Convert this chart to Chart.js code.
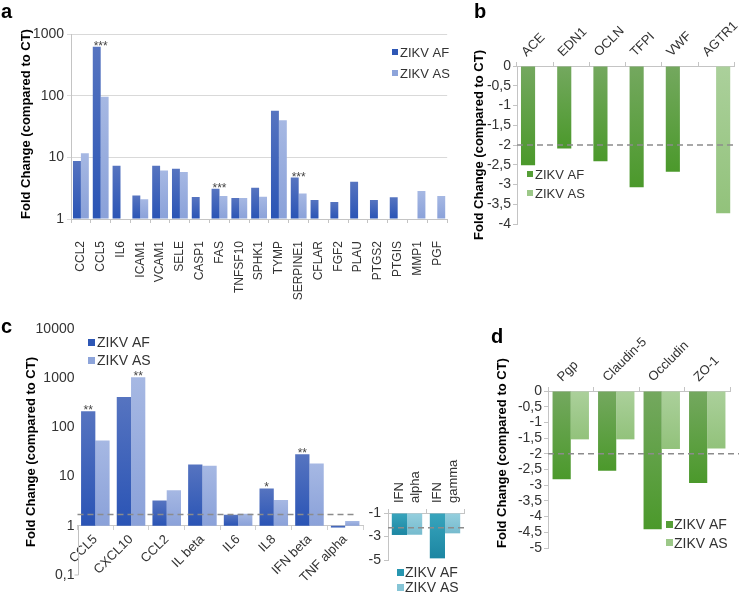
<!DOCTYPE html>
<html><head><meta charset="utf-8">
<script src="https://cdn.jsdelivr.net/npm/chart.js@4.4.1/dist/chart.umd.min.js"></script>
<style>
html,body{margin:0;padding:0;background:#fff;}
#wrap{position:relative;width:750px;height:594px;overflow:hidden;font-family:'Liberation Sans',Arial,sans-serif;}
canvas{position:absolute;}
.lbl{position:absolute;font-weight:bold;font-size:20px;color:#000;line-height:1;}
</style></head><body>
<div id="wrap">
<canvas id="ca" width="470" height="300" style="left:0;top:0"></canvas>
<canvas id="cb" width="280" height="300" style="left:470px;top:0"></canvas>
<canvas id="cc" width="375" height="294" style="left:0;top:300px"></canvas>
<canvas id="ci" width="130" height="154" style="left:340px;top:440px"></canvas>
<canvas id="cd" width="280" height="294" style="left:470px;top:300px"></canvas>
<div class="lbl" style="left:1px;top:1px">a</div>
<div class="lbl" style="left:474px;top:1px">b</div>
<div class="lbl" style="left:1px;top:316px">c</div>
<div class="lbl" style="left:491px;top:326px">d</div>
</div>
<script>
// ---------- data ----------
const seriesNames = ['ZIKV AF', 'ZIKV AS'];

const genesA = ['CCL2','CCL5','IL6','ICAM1','VCAM1','SELE','CASP1','FAS','TNFSF10','SPHK1','TYMP','SERPINE1','CFLAR','FGF2','PLAU','PTGS2','PTGIS','MMP1','PGF'];
const afA = [8.7, 620, 7.3, 2.4, 7.3, 6.5, 2.27, 3.1, 2.2, 3.2, 57, 4.7, 2.03, 1.89, 4.0, 2.03, 2.25, null, null];
const asA = [11.7, 96, null, 2.1, 6.1, 5.8, null, 2.36, 2.2, 2.3, 40, 2.6, null, null, null, null, null, 2.84, 2.36];
const ticksA = [1, 10, 100, 1000];
const starsA = [[1, null, '***'], [7, null, '***'], [11, null, '***']];

const genesB = ['ACE','EDN1','OCLN','TFPI','VWF','AGTR1'];
const afB = [-2.51, -2.09, -2.41, -3.07, -2.68, null];
const asB = [null, null, null, null, null, -3.73];
const thresholdB = -2;

const genesC = ['CCL5','CXCL10','CCL2','IL beta','IL6','IL8','IFN beta','TNF alpha'];
const afC = [214, 413, 3.28, 17.7, 1.68, 5.75, 28.6, 0.92];
const asC = [54, 1050, 5.3, 16.6, 1.75, 3.33, 18.5, 1.25];
const ticksC = [0.1, 1, 10, 100, 1000, 10000];
const starsC = [[0, 0, '**'], [1, 1, '**'], [5, 0, '*'], [6, 0, '**']];
const thresholdC = 1.7;

const genesIFN = [['IFN','alpha'], ['IFN','gamma']];
const afIFN = [-2.87, -4.86];
const asIFN = [-2.85, -2.73];
const thresholdIFN = -2.25;

const genesD = ['Pgp','Claudin-5','Occludin','ZO-1'];
const afD = [-2.81, -2.54, -4.4, -2.93];
const asD = [-1.54, -1.54, -1.85, -1.83];
const thresholdD = -2;

// ---------- styling ----------
const FONT = "'Liberation Sans', Arial, Helvetica, sans-serif";
Chart.defaults.font.family = FONT;
Chart.defaults.color = '#333';
const COL = {
  bAF: ['#5674c0', '#2a54b5', '#2e57b5'],
  bAS: ['#a6b8e3', '#8aa1d9', '#8da4da'],
  gAF: ['#74a85f', '#4b992b', '#559e37'],
  gAS: ['#abd09b', '#92c27b', '#9cc888'],
  tAF: ['#38a5bd', '#1c86a2', '#2796b0'],
  tAS: ['#95cfde', '#76bbce', '#86c5d6']
};
function grad(c) {
  return function (ctx) {
    const chart = ctx.chart, ys = chart.scales && chart.scales.y;
    if (!ys || ctx.raw == null) return c[1];
    const baseVal = ctx.dataset.base != null ? ctx.dataset.base : 0;
    const p1 = ys.getPixelForValue(ctx.raw), p0 = ys.getPixelForValue(baseVal);
    if (!isFinite(p0) || !isFinite(p1) || p0 === p1) return c[1];
    const g = chart.ctx.createLinearGradient(0, Math.min(p0, p1), 0, Math.max(p0, p1));
    g.addColorStop(0, c[0]); g.addColorStop(1, c[1]);
    return g;
  };
}
const fmt = v => (Math.round(v * 1000) / 1000).toString().replace('.', ',');
const TITLE = 'Fold Change (compared to CT)';

const deco = {
  id: 'deco',
  afterDatasetsDraw(chart, args, o) {
    const ctx = chart.ctx, ca = chart.chartArea, ys = chart.scales.y, xs = chart.scales.x;
    ctx.save();
    if (o.axisSeg) {
      const x = Math.round(ca.left) + 0.5;
      const y1 = ys.getPixelForValue(o.axisSeg[0]), y2 = ys.getPixelForValue(o.axisSeg[1]);
      ctx.strokeStyle = '#c0c0c0'; ctx.lineWidth = 1;
      ctx.beginPath(); ctx.moveTo(x, y1); ctx.lineTo(x, y2); ctx.moveTo(x - 4, y2); ctx.lineTo(x, y2); ctx.stroke();
    }
    if (o.dash != null) {
      const py = ys.getPixelForValue(o.dash);
      ctx.strokeStyle = '#8c8c8c'; ctx.lineWidth = 1.5; ctx.setLineDash([6, 4]);
      ctx.beginPath(); ctx.moveTo(ca.left + (o.dashL || 0), py); ctx.lineTo(ca.right + (o.dashR || 0), py); ctx.stroke();
      ctx.setLineDash([]);
    }
    if (o.stars) {
      ctx.fillStyle = '#444'; ctx.font = '12px ' + FONT; ctx.textAlign = 'center'; ctx.textBaseline = 'alphabetic';
      o.stars.forEach(([ci, di, txt]) => {
        let x, top;
        if (di == null) {
          x = xs.getPixelForValue(ci);
          top = Infinity;
          chart.data.datasets.forEach((d, k) => {
            if (d.data[ci] != null) top = Math.min(top, chart.getDatasetMeta(k).data[ci].y);
          });
        } else {
          const el = chart.getDatasetMeta(di).data[ci]; x = el.x; top = el.y;
        }
        ctx.fillText(txt, x, top + 3);
      });
    }
    if (o.legend) {
      const L = o.legend;
      ctx.font = L.size + 'px ' + FONT; ctx.textAlign = 'left'; ctx.textBaseline = 'middle';
      chart.data.datasets.forEach((d, k) => {
        const y = L.y + k * L.dy;
        ctx.fillStyle = d.legendColor; ctx.fillRect(L.x, Math.round(y - L.box / 2), L.box, L.box);
        ctx.fillStyle = '#333'; ctx.fillText(d.label, L.tx, y + 1);
      });
    }
    ctx.restore();
  }
};

function ds(label, data, c, base, catPct) {
  return { label, data, base, backgroundColor: grad(c), legendColor: c[2], barPercentage: 1, categoryPercentage: catPct };
}
function baseOpts(pad, plug, scales) {
  return {
    responsive: false, animation: false, events: [],
    layout: { padding: pad },
    plugins: { legend: { display: false }, tooltip: { enabled: false }, deco: plug },
    scales
  };
}
const gridCol = '#c4c4c4';

// ---------- panel a ----------
new Chart(document.getElementById('ca'), {
  type: 'bar',
  data: { labels: genesA, datasets: [ds(seriesNames[0], afA, COL.bAF, 1, 0.8), ds(seriesNames[1], asA, COL.bAS, 1, 0.8)] },
  options: baseOpts({ top: 34, right: 12, left: 0, bottom: 0 },
    { stars: starsA, legend: { x: 392, y: 52, dy: 21, box: 6, tx: 400, size: 13 } },
    {
      x: { grid: { offset: true, drawOnChartArea: false, tickLength: 4, color: gridCol }, border: { color: gridCol },
           ticks: { minRotation: 90, maxRotation: 90, autoSkip: false, padding: 18, font: { size: 12 }, color: '#333' },
           afterFit: s => { s.height = 81; } },
      y: { type: 'logarithmic', min: 1, max: 1000,
           afterBuildTicks: s => { s.ticks = ticksA.map(v => ({ value: v })); },
           ticks: { callback: v => fmt(v), font: { size: 14 }, padding: 3, autoSkip: false },
           grid: { color: '#d9d9d9', tickLength: 4 }, border: { color: gridCol },
           title: { display: true, text: TITLE, color: '#000', font: { size: 13, weight: 'bold' }, padding: { top: 19, bottom: 0 }, align: 'start' },
           afterFit: s => { s.width = 71; } }
    }),
  plugins: [deco]
});

// ---------- panel b ----------
new Chart(document.getElementById('cb'), {
  type: 'bar',
  data: { labels: genesB, datasets: [ds(seriesNames[0], afB, COL.gAF, 0, 0.78), ds(seriesNames[1], asB, COL.gAS, 0, 0.78)] },
  options: baseOpts({ top: 0, right: 15, left: 0, bottom: 76 },
    { dash: thresholdB, legend: { x: 57, y: 174, dy: 19, box: 6, tx: 65, size: 13 } },
    {
      x: { position: 'top', grid: { offset: true, drawOnChartArea: false, tickLength: 4, color: gridCol }, border: { color: gridCol },
           ticks: { minRotation: 45, maxRotation: 45, autoSkip: false, padding: 2, font: { size: 13 }, color: '#333' },
           afterFit: s => { s.height = 66; } },
      y: { min: -4, max: 0, ticks: { stepSize: 0.5, autoSkip: false, callback: v => fmt(v), font: { size: 14 }, padding: 2 },
           grid: { drawOnChartArea: false, tickLength: 4, color: gridCol }, border: { color: gridCol },
           title: { display: true, text: TITLE, color: '#000', font: { size: 13, weight: 'bold' }, padding: { top: 2, bottom: 0 } },
           afterFit: s => { s.width = 47; } }
    }),
  plugins: [deco]
});

// ---------- panel c ----------
new Chart(document.getElementById('cc'), {
  type: 'bar',
  data: { labels: genesC, datasets: [ds(seriesNames[0], afC, COL.bAF, 1, 0.8), ds(seriesNames[1], asC, COL.bAS, 1, 0.8)] },
  options: baseOpts({ top: 29, right: 12, left: 0, bottom: 19 },
    { dash: thresholdC, dashR: -7, stars: starsC, axisSeg: [1, 0.1], legend: { x: 88, y: 42, dy: 18.5, box: 7, tx: 97, size: 14 } },
    {
      x: { position: { y: 1 }, grid: { offset: true, drawOnChartArea: false, tickLength: 4, color: '#d0d0d0' }, border: { color: '#c8c8c8' },
           ticks: { minRotation: 45, maxRotation: 45, autoSkip: false, padding: 2, font: { size: 13 }, color: '#333' } },
      y: { type: 'logarithmic', min: 0.1, max: 10000,
           afterBuildTicks: s => { s.ticks = ticksC.map(v => ({ value: v })); },
           ticks: { callback: v => fmt(v), font: { size: 14 }, padding: 3, autoSkip: false },
           grid: { display: false, drawTicks: false }, border: { display: false },
           title: { display: true, text: TITLE, color: '#000', font: { size: 13, weight: 'bold' }, padding: { top: 24, bottom: 0 } },
           afterFit: s => { s.width = 77.5; } }
    }),
  plugins: [deco]
});

// ---------- panel c inset (IFN) ----------
new Chart(document.getElementById('ci'), {
  type: 'bar',
  data: { labels: genesIFN, datasets: [ds(seriesNames[0], afIFN, COL.tAF, -1, 0.8), ds(seriesNames[1], asIFN, COL.tAS, -1, 0.8)] },
  options: baseOpts({ top: 0, right: 6, left: 0, bottom: 34 },
    { dash: thresholdIFN, dashR: 2, legend: { x: 57, y: 132, dy: 15, box: 7, tx: 65, size: 14 } },
    {
      x: { position: 'top', grid: { offset: true, drawOnChartArea: false, tickLength: 4, color: gridCol }, border: { color: gridCol },
           ticks: { minRotation: 90, maxRotation: 90, autoSkip: false, padding: 6, labelOffset: 24, font: { size: 13 }, color: '#333' },
           afterFit: s => { s.height = 73; } },
      y: { min: -5, max: -1, ticks: { stepSize: 2, autoSkip: false, callback: v => fmt(v), font: { size: 14 }, padding: 3 },
           grid: { drawOnChartArea: false, tickLength: 4, color: gridCol }, border: { color: gridCol },
           afterFit: s => { s.width = 48; } }
    }),
  plugins: [deco]
});

// ---------- panel d ----------
new Chart(document.getElementById('cd'), {
  type: 'bar',
  data: { labels: genesD, datasets: [ds(seriesNames[0], afD, COL.gAF, 0, 0.8), ds(seriesNames[1], asD, COL.gAS, 0, 0.8)] },
  options: baseOpts({ top: 0, right: 20, left: 0, bottom: 46 },
    { dash: thresholdD, dashR: 9, legend: { x: 196, y: 224, dy: 18.7, box: 7, tx: 204, size: 14 } },
    {
      x: { position: 'top', grid: { offset: true, drawOnChartArea: false, tickLength: 4, color: gridCol }, border: { color: gridCol },
           ticks: { minRotation: 45, maxRotation: 45, autoSkip: false, padding: 2, font: { size: 13 }, color: '#333' },
           afterFit: s => { s.height = 91; } },
      y: { min: -5, max: 0, ticks: { stepSize: 0.5, autoSkip: false, callback: v => fmt(v), font: { size: 14 }, padding: 2 },
           grid: { drawOnChartArea: false, tickLength: 4, color: gridCol }, border: { color: gridCol },
           title: { display: true, text: TITLE, color: '#000', font: { size: 13, weight: 'bold' }, padding: { top: 25, bottom: 0 }, align: 'start' },
           afterFit: s => { s.width = 78; } }
    }),
  plugins: [deco]
});
</script>
</body></html>
